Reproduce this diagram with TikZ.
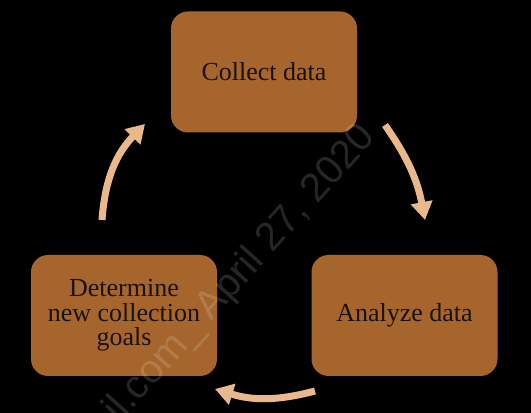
\documentclass[tikz,border=0pt]{standalone}
\usepackage{fontspec}
\setmainfont{Liberation Serif}
\newfontfamily\wmfont{Liberation Sans}
\usetikzlibrary{arrows.meta}
\definecolor{boxbrown}{HTML}{A5652C}
\definecolor{arrowtan}{HTML}{E9B98C}
\definecolor{txtdark}{HTML}{1A1208}
\begin{document}
\begin{tikzpicture}[x=1pt,y=1pt,
  stagebox/.style={fill=boxbrown, rounded corners=17pt, minimum width=186pt, minimum height=121pt,
    inner sep=0pt, text=txtdark, font=\fontsize{26}{24.5}\selectfont, align=center},
  cyclearrow/.style={draw=arrowtan, line width=7pt, -{Triangle[width=21pt,length=18pt]}},
  wm/.style={text=white, opacity=0.15, font=\wmfont\fontsize{40}{40}\selectfont, rotate=48, inner sep=0pt}]
\fill[black] (0,0) rectangle (531,413);
\useasboundingbox (0,0) rectangle (531,413);
\node[stagebox] (collect) at (264,341) {Collect data};
\node[stagebox] (analyze) at (404.5,97.5) {Analyze data};
\node[stagebox] (goals) at (124,97.5) {Determine\\new collection\\goals};
\coordinate (a1s) at (385,288);
\coordinate (a1e) at (425,193);
\coordinate (a2s) at (315,22);
\coordinate (a2e) at (215,24);
\coordinate (a3s) at (102,193);
\coordinate (a3e) at (145,289);
\draw[cyclearrow] (a1s) to[bend left=12] (a1e);
\draw[cyclearrow] (a2s) to[bend left=16] (a2e);
\draw[cyclearrow] (a3s) to[bend left=20] (a3e);
\node[wm, anchor=base east] (wmark) at (377,275) {il.com\_ April 27, 2020};
\end{tikzpicture}
\end{document}
